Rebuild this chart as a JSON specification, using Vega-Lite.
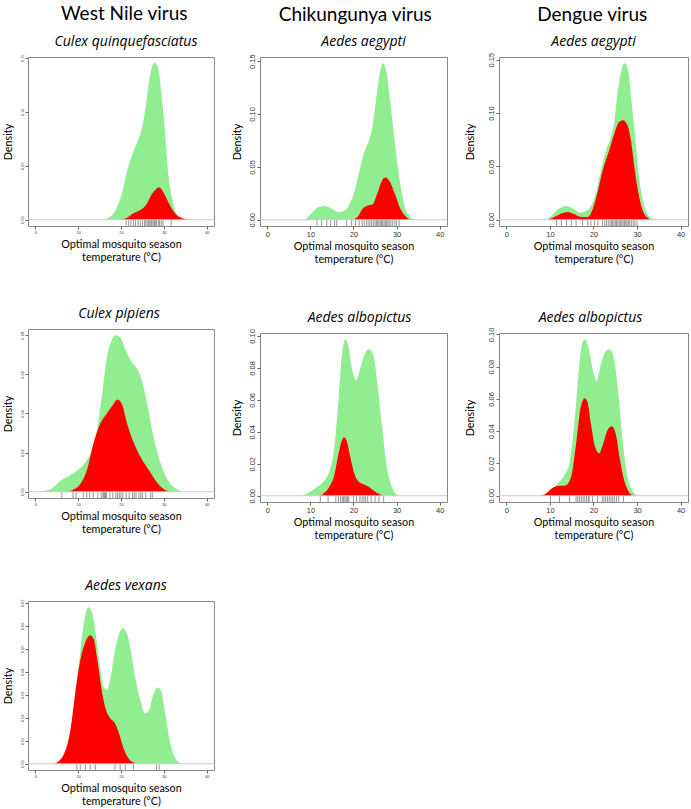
{
"$schema": "https://vega.github.io/schema/vega-lite/v6.json",
"padding": {"left": 1, "top": 5, "right": 0, "bottom": 0},
"background": "white",
"config": {
  "font": "Lato",
  "view": {"stroke": "#888888", "strokeWidth": 1},
  "axis": {"grid": false, "domain": false, "tickColor": "#666666", "tickSize": 3, "labelColor": "#333333", "labelFont": "Liberation Sans", "labelPadding": 1, "labelOverlap": false, "labelBound": false, "titleFont": "Lato", "titleFontWeight": 400, "titleFontSize": 10.8, "titleColor": "black", "titleLineHeight": 13},
  "axisY": {"labelAngle": -90, "labelOverlap": false, "tickCount": 20},
  "axisX": {"labelOverlap": false, "tickCount": 20},
  "title": {"font": "Open Sans", "fontWeight": 400, "fontSize": 14, "fontStyle": "italic", "offset": 8, "anchor": "middle", "frame": "group", "color": "black"}
},
"datasets": {
"curves": [
{"p":"p1","s":"g","t":15.6,"d":0},{"p":"p1","s":"g","t":17.1,"d":0.0018},{"p":"p1","s":"g","t":18.7,"d":0.0085},{"p":"p1","s":"g","t":20.2,"d":0.0238},{"p":"p1","s":"g","t":21.4,"d":0.045},{"p":"p1","s":"g","t":22.6,"d":0.06},{"p":"p1","s":"g","t":23.7,"d":0.071},{"p":"p1","s":"g","t":24.9,"d":0.085},{"p":"p1","s":"g","t":25.7,"d":0.103},{"p":"p1","s":"g","t":26.4,"d":0.124},{"p":"p1","s":"g","t":27.2,"d":0.141},{"p":"p1","s":"g","t":27.8,"d":0.1454},{"p":"p1","s":"g","t":28.6,"d":0.141},{"p":"p1","s":"g","t":29.4,"d":0.118},{"p":"p1","s":"g","t":30.2,"d":0.085},{"p":"p1","s":"g","t":30.9,"d":0.048},{"p":"p1","s":"g","t":31.9,"d":0.0207},{"p":"p1","s":"g","t":33.0,"d":0.0055},{"p":"p1","s":"g","t":34.6,"d":0},
{"p":"p1","s":"r","t":19.8,"d":0},{"p":"p1","s":"r","t":21.4,"d":0.0018},{"p":"p1","s":"r","t":22.9,"d":0.006},{"p":"p1","s":"r","t":24.5,"d":0.009},{"p":"p1","s":"r","t":26.0,"d":0.0146},{"p":"p1","s":"r","t":27.2,"d":0.0238},{"p":"p1","s":"r","t":28.1,"d":0.028},{"p":"p1","s":"r","t":28.8,"d":0.03},{"p":"p1","s":"r","t":29.5,"d":0.028},{"p":"p1","s":"r","t":30.7,"d":0.019},{"p":"p1","s":"r","t":31.9,"d":0.01},{"p":"p1","s":"r","t":33.4,"d":0.003},{"p":"p1","s":"r","t":36.1,"d":0},
{"p":"p2","s":"g","t":8.7,"d":0},{"p":"p2","s":"g","t":9.8,"d":0.004},{"p":"p2","s":"g","t":11.3,"d":0.0104},{"p":"p2","s":"g","t":13.2,"d":0.0129},{"p":"p2","s":"g","t":15.0,"d":0.0104},{"p":"p2","s":"g","t":16.5,"d":0.0072},{"p":"p2","s":"g","t":18.0,"d":0.0088},{"p":"p2","s":"g","t":19.1,"d":0.015},{"p":"p2","s":"g","t":20.3,"d":0.0277},{"p":"p2","s":"g","t":21.4,"d":0.0465},{"p":"p2","s":"g","t":22.5,"d":0.064},{"p":"p2","s":"g","t":23.6,"d":0.075},{"p":"p2","s":"g","t":24.4,"d":0.0874},{"p":"p2","s":"g","t":25.1,"d":0.109},{"p":"p2","s":"g","t":26.1,"d":0.138},{"p":"p2","s":"g","t":26.8,"d":0.148},{"p":"p2","s":"g","t":27.6,"d":0.141},{"p":"p2","s":"g","t":28.3,"d":0.119},{"p":"p2","s":"g","t":29.2,"d":0.0874},{"p":"p2","s":"g","t":30.0,"d":0.059},{"p":"p2","s":"g","t":31.1,"d":0.0277},{"p":"p2","s":"g","t":32.2,"d":0.0088},{"p":"p2","s":"g","t":33.7,"d":0.001},{"p":"p2","s":"g","t":34.5,"d":0},
{"p":"p2","s":"r","t":19.9,"d":0},{"p":"p2","s":"r","t":21.0,"d":0.003},{"p":"p2","s":"r","t":22.1,"d":0.0104},{"p":"p2","s":"r","t":23.3,"d":0.0135},{"p":"p2","s":"r","t":24.4,"d":0.0145},{"p":"p2","s":"r","t":25.5,"d":0.0245},{"p":"p2","s":"r","t":26.6,"d":0.037},{"p":"p2","s":"r","t":27.4,"d":0.04},{"p":"p2","s":"r","t":28.3,"d":0.037},{"p":"p2","s":"r","t":29.6,"d":0.0245},{"p":"p2","s":"r","t":30.7,"d":0.012},{"p":"p2","s":"r","t":31.9,"d":0.004},{"p":"p2","s":"r","t":33.3,"d":0},
{"p":"p3","s":"g","t":9.1,"d":0},{"p":"p3","s":"g","t":10.3,"d":0.0035},{"p":"p3","s":"g","t":11.8,"d":0.0098},{"p":"p3","s":"g","t":13.7,"d":0.0129},{"p":"p3","s":"g","t":15.6,"d":0.0098},{"p":"p3","s":"g","t":16.8,"d":0.0066},{"p":"p3","s":"g","t":18.3,"d":0.0082},{"p":"p3","s":"g","t":19.4,"d":0.0129},{"p":"p3","s":"g","t":20.6,"d":0.0255},{"p":"p3","s":"g","t":21.7,"d":0.046},{"p":"p3","s":"g","t":22.9,"d":0.065},{"p":"p3","s":"g","t":24.0,"d":0.0775},{"p":"p3","s":"g","t":24.8,"d":0.093},{"p":"p3","s":"g","t":25.5,"d":0.118},{"p":"p3","s":"g","t":26.5,"d":0.142},{"p":"p3","s":"g","t":27.2,"d":0.1466},{"p":"p3","s":"g","t":28.0,"d":0.139},{"p":"p3","s":"g","t":28.7,"d":0.112},{"p":"p3","s":"g","t":29.5,"d":0.0807},{"p":"p3","s":"g","t":30.2,"d":0.049},{"p":"p3","s":"g","t":31.2,"d":0.021},{"p":"p3","s":"g","t":32.4,"d":0.005},{"p":"p3","s":"g","t":33.9,"d":0},
{"p":"p3","s":"r","t":9.5,"d":0},{"p":"p3","s":"r","t":11.0,"d":0.0025},{"p":"p3","s":"r","t":12.6,"d":0.0057},{"p":"p3","s":"r","t":14.1,"d":0.0072},{"p":"p3","s":"r","t":15.6,"d":0.005},{"p":"p3","s":"r","t":17.1,"d":0.0025},{"p":"p3","s":"r","t":18.7,"d":0.0025},{"p":"p3","s":"r","t":19.8,"d":0.0098},{"p":"p3","s":"r","t":21.0,"d":0.027},{"p":"p3","s":"r","t":22.1,"d":0.046},{"p":"p3","s":"r","t":23.6,"d":0.065},{"p":"p3","s":"r","t":24.8,"d":0.081},{"p":"p3","s":"r","t":25.9,"d":0.0917},{"p":"p3","s":"r","t":26.8,"d":0.0933},{"p":"p3","s":"r","t":27.8,"d":0.0885},{"p":"p3","s":"r","t":28.6,"d":0.0744},{"p":"p3","s":"r","t":29.3,"d":0.052},{"p":"p3","s":"r","t":30.1,"d":0.03},{"p":"p3","s":"r","t":31.2,"d":0.0098},{"p":"p3","s":"r","t":32.4,"d":0.002},{"p":"p3","s":"r","t":33.5,"d":0},
{"p":"p4","s":"g","t":0.4,"d":0},{"p":"p4","s":"g","t":3.5,"d":0.0013},{"p":"p4","s":"g","t":5.8,"d":0.0055},{"p":"p4","s":"g","t":9.0,"d":0.0097},{"p":"p4","s":"g","t":11.3,"d":0.014},{"p":"p4","s":"g","t":13.2,"d":0.0215},{"p":"p4","s":"g","t":14.4,"d":0.0316},{"p":"p4","s":"g","t":15.6,"d":0.05},{"p":"p4","s":"g","t":16.7,"d":0.0686},{"p":"p4","s":"g","t":17.9,"d":0.0778},{"p":"p4","s":"g","t":18.7,"d":0.08},{"p":"p4","s":"g","t":19.9,"d":0.0786},{"p":"p4","s":"g","t":21.0,"d":0.0728},{"p":"p4","s":"g","t":22.6,"d":0.066},{"p":"p4","s":"g","t":23.8,"d":0.0627},{"p":"p4","s":"g","t":24.9,"d":0.0568},{"p":"p4","s":"g","t":26.1,"d":0.045},{"p":"p4","s":"g","t":27.6,"d":0.028},{"p":"p4","s":"g","t":29.2,"d":0.0148},{"p":"p4","s":"g","t":30.8,"d":0.0064},{"p":"p4","s":"g","t":33.1,"d":0.0013},{"p":"p4","s":"g","t":34.7,"d":0},
{"p":"p4","s":"r","t":7.0,"d":0},{"p":"p4","s":"r","t":8.6,"d":0.0008},{"p":"p4","s":"r","t":10.5,"d":0.0039},{"p":"p4","s":"r","t":12.1,"d":0.0114},{"p":"p4","s":"r","t":13.6,"d":0.0249},{"p":"p4","s":"r","t":15.2,"d":0.035},{"p":"p4","s":"r","t":16.7,"d":0.04},{"p":"p4","s":"r","t":18.3,"d":0.045},{"p":"p4","s":"r","t":19.1,"d":0.0472},{"p":"p4","s":"r","t":20.2,"d":0.045},{"p":"p4","s":"r","t":21.4,"d":0.035},{"p":"p4","s":"r","t":23.0,"d":0.0249},{"p":"p4","s":"r","t":24.5,"d":0.018},{"p":"p4","s":"r","t":26.9,"d":0.0097},{"p":"p4","s":"r","t":28.4,"d":0.0047},{"p":"p4","s":"r","t":30.0,"d":0.0013},{"p":"p4","s":"r","t":31.5,"d":0},
{"p":"p5","s":"g","t":8.0,"d":0},{"p":"p5","s":"g","t":9.5,"d":0.0017},{"p":"p5","s":"g","t":11.4,"d":0.0052},{"p":"p5","s":"g","t":13.2,"d":0.0094},{"p":"p5","s":"g","t":14.3,"d":0.0146},{"p":"p5","s":"g","t":15.5,"d":0.029},{"p":"p5","s":"g","t":16.6,"d":0.0628},{"p":"p5","s":"g","t":17.3,"d":0.0879},{"p":"p5","s":"g","t":18.1,"d":0.0979},{"p":"p5","s":"g","t":18.8,"d":0.094},{"p":"p5","s":"g","t":19.5,"d":0.0816},{"p":"p5","s":"g","t":20.7,"d":0.0722},{"p":"p5","s":"g","t":21.6,"d":0.08},{"p":"p5","s":"g","t":22.7,"d":0.0889},{"p":"p5","s":"g","t":23.6,"d":0.0916},{"p":"p5","s":"g","t":24.6,"d":0.0879},{"p":"p5","s":"g","t":25.5,"d":0.071},{"p":"p5","s":"g","t":26.6,"d":0.044},{"p":"p5","s":"g","t":27.7,"d":0.0188},{"p":"p5","s":"g","t":28.8,"d":0.0063},{"p":"p5","s":"g","t":30.0,"d":0.001},{"p":"p5","s":"g","t":31.1,"d":0},
{"p":"p5","s":"r","t":12.1,"d":0},{"p":"p5","s":"r","t":13.2,"d":0.0017},{"p":"p5","s":"r","t":14.3,"d":0.0052},{"p":"p5","s":"r","t":15.5,"d":0.0125},{"p":"p5","s":"r","t":16.6,"d":0.0272},{"p":"p5","s":"r","t":17.3,"d":0.0345},{"p":"p5","s":"r","t":17.8,"d":0.0366},{"p":"p5","s":"r","t":18.4,"d":0.0345},{"p":"p5","s":"r","t":19.2,"d":0.025},{"p":"p5","s":"r","t":20.1,"d":0.0146},{"p":"p5","s":"r","t":21.0,"d":0.0094},{"p":"p5","s":"r","t":22.2,"d":0.0073},{"p":"p5","s":"r","t":23.3,"d":0.0059},{"p":"p5","s":"r","t":24.4,"d":0.0038},{"p":"p5","s":"r","t":25.5,"d":0.0017},{"p":"p5","s":"r","t":27.0,"d":0},
{"p":"p6","s":"g","t":7.7,"d":0},{"p":"p6","s":"g","t":9.6,"d":0.0021},{"p":"p6","s":"g","t":11.5,"d":0.0068},{"p":"p6","s":"g","t":13.4,"d":0.0131},{"p":"p6","s":"g","t":14.5,"d":0.0205},{"p":"p6","s":"g","t":15.6,"d":0.0447},{"p":"p6","s":"g","t":16.8,"d":0.0827},{"p":"p6","s":"g","t":17.5,"d":0.0954},{"p":"p6","s":"g","t":18.1,"d":0.097},{"p":"p6","s":"g","t":18.9,"d":0.0911},{"p":"p6","s":"g","t":19.8,"d":0.0785},{"p":"p6","s":"g","t":20.7,"d":0.0711},{"p":"p6","s":"g","t":21.7,"d":0.0816},{"p":"p6","s":"g","t":22.8,"d":0.0895},{"p":"p6","s":"g","t":23.7,"d":0.0907},{"p":"p6","s":"g","t":24.7,"d":0.0848},{"p":"p6","s":"g","t":25.7,"d":0.0637},{"p":"p6","s":"g","t":26.7,"d":0.0342},{"p":"p6","s":"g","t":27.7,"d":0.0131},{"p":"p6","s":"g","t":28.8,"d":0.0036},{"p":"p6","s":"g","t":30.3,"d":0},
{"p":"p6","s":"r","t":7.7,"d":0},{"p":"p6","s":"r","t":8.8,"d":0.0008},{"p":"p6","s":"r","t":10.0,"d":0.0036},{"p":"p6","s":"r","t":11.1,"d":0.0055},{"p":"p6","s":"r","t":12.2,"d":0.0061},{"p":"p6","s":"r","t":13.6,"d":0.0063},{"p":"p6","s":"r","t":14.9,"d":0.012},{"p":"p6","s":"r","t":16.0,"d":0.032},{"p":"p6","s":"r","t":17.1,"d":0.0553},{"p":"p6","s":"r","t":18.0,"d":0.0605},{"p":"p6","s":"r","t":18.6,"d":0.0584},{"p":"p6","s":"r","t":19.4,"d":0.0447},{"p":"p6","s":"r","t":20.4,"d":0.03},{"p":"p6","s":"r","t":21.3,"d":0.0262},{"p":"p6","s":"r","t":22.2,"d":0.032},{"p":"p6","s":"r","t":23.2,"d":0.0405},{"p":"p6","s":"r","t":24.2,"d":0.043},{"p":"p6","s":"r","t":25.1,"d":0.0384},{"p":"p6","s":"r","t":26.0,"d":0.0236},{"p":"p6","s":"r","t":27.0,"d":0.0099},{"p":"p6","s":"r","t":28.1,"d":0.0025},{"p":"p6","s":"r","t":29.2,"d":0},
{"p":"p7","s":"g","t":5.0,"d":0},{"p":"p7","s":"g","t":6.2,"d":0.0014},{"p":"p7","s":"g","t":7.4,"d":0.0061},{"p":"p7","s":"g","t":8.5,"d":0.0176},{"p":"p7","s":"g","t":9.7,"d":0.0349},{"p":"p7","s":"g","t":10.9,"d":0.0551},{"p":"p7","s":"g","t":11.7,"d":0.0652},{"p":"p7","s":"g","t":12.4,"d":0.0681},{"p":"p7","s":"g","t":13.2,"d":0.066},{"p":"p7","s":"g","t":14.0,"d":0.058},{"p":"p7","s":"g","t":15.0,"d":0.0436},{"p":"p7","s":"g","t":15.9,"d":0.0335},{"p":"p7","s":"g","t":16.7,"d":0.032},{"p":"p7","s":"g","t":17.6,"d":0.0378},{"p":"p7","s":"g","t":18.6,"d":0.0494},{"p":"p7","s":"g","t":19.7,"d":0.0573},{"p":"p7","s":"g","t":20.4,"d":0.059},{"p":"p7","s":"g","t":21.4,"d":0.0566},{"p":"p7","s":"g","t":22.3,"d":0.0494},{"p":"p7","s":"g","t":23.3,"d":0.0378},{"p":"p7","s":"g","t":24.5,"d":0.0277},{"p":"p7","s":"g","t":25.6,"d":0.0219},{"p":"p7","s":"g","t":26.4,"d":0.0227},{"p":"p7","s":"g","t":27.4,"d":0.0292},{"p":"p7","s":"g","t":28.5,"d":0.0332},{"p":"p7","s":"g","t":29.3,"d":0.032},{"p":"p7","s":"g","t":30.3,"d":0.0219},{"p":"p7","s":"g","t":31.5,"d":0.0089},{"p":"p7","s":"g","t":32.6,"d":0.0025},{"p":"p7","s":"g","t":34.2,"d":0},
{"p":"p7","s":"r","t":4.3,"d":0},{"p":"p7","s":"r","t":5.4,"d":0.001},{"p":"p7","s":"r","t":6.6,"d":0.0039},{"p":"p7","s":"r","t":8.2,"d":0.0147},{"p":"p7","s":"r","t":9.3,"d":0.0306},{"p":"p7","s":"r","t":10.5,"d":0.045},{"p":"p7","s":"r","t":11.7,"d":0.053},{"p":"p7","s":"r","t":12.8,"d":0.0559},{"p":"p7","s":"r","t":13.6,"d":0.0544},{"p":"p7","s":"r","t":14.5,"d":0.045},{"p":"p7","s":"r","t":15.5,"d":0.032},{"p":"p7","s":"r","t":16.5,"d":0.0234},{"p":"p7","s":"r","t":17.5,"d":0.0198},{"p":"p7","s":"r","t":18.6,"d":0.0176},{"p":"p7","s":"r","t":19.4,"d":0.014},{"p":"p7","s":"r","t":20.6,"d":0.0068},{"p":"p7","s":"r","t":21.7,"d":0.0025},{"p":"p7","s":"r","t":22.9,"d":0.0006},{"p":"p7","s":"r","t":24.5,"d":0}
],
"rugs": [
{"p":"p1","t":21.2},{"p":"p1","t":21.8},{"p":"p1","t":22.3},{"p":"p1","t":22.9},{"p":"p1","t":23.4},{"p":"p1","t":24.0},{"p":"p1","t":24.5},{"p":"p1","t":25.0},{"p":"p1","t":25.5},{"p":"p1","t":25.8},{"p":"p1","t":26.1},{"p":"p1","t":26.4},{"p":"p1","t":26.7},{"p":"p1","t":27.0},{"p":"p1","t":27.2},{"p":"p1","t":27.5},{"p":"p1","t":27.8},{"p":"p1","t":28.0},{"p":"p1","t":28.3},{"p":"p1","t":28.7},{"p":"p1","t":29.0},{"p":"p1","t":29.4},{"p":"p1","t":29.8},{"p":"p1","t":31.7},
{"p":"p2","t":11.5},{"p":"p2","t":12.6},{"p":"p2","t":13.8},{"p":"p2","t":14.7},{"p":"p2","t":15.6},{"p":"p2","t":16.1},{"p":"p2","t":18.4},{"p":"p2","t":19.5},{"p":"p2","t":20.5},{"p":"p2","t":21.3},{"p":"p2","t":22.0},{"p":"p2","t":22.5},{"p":"p2","t":23.0},{"p":"p2","t":23.4},{"p":"p2","t":23.8},{"p":"p2","t":24.2},{"p":"p2","t":24.6},{"p":"p2","t":25.0},{"p":"p2","t":25.3},{"p":"p2","t":25.6},{"p":"p2","t":25.9},{"p":"p2","t":26.2},{"p":"p2","t":26.5},{"p":"p2","t":26.8},{"p":"p2","t":27.1},{"p":"p2","t":27.4},{"p":"p2","t":27.7},{"p":"p2","t":28.0},{"p":"p2","t":28.3},{"p":"p2","t":28.7},{"p":"p2","t":29.1},{"p":"p2","t":29.6},{"p":"p2","t":30.0},{"p":"p2","t":30.6},
{"p":"p3","t":11.5},{"p":"p3","t":12.6},{"p":"p3","t":13.8},{"p":"p3","t":14.9},{"p":"p3","t":16.0},{"p":"p3","t":17.5},{"p":"p3","t":18.7},{"p":"p3","t":19.4},{"p":"p3","t":20.2},{"p":"p3","t":21.0},{"p":"p3","t":22.1},{"p":"p3","t":22.6},{"p":"p3","t":23.0},{"p":"p3","t":23.4},{"p":"p3","t":23.8},{"p":"p3","t":24.1},{"p":"p3","t":24.4},{"p":"p3","t":24.7},{"p":"p3","t":25.0},{"p":"p3","t":25.3},{"p":"p3","t":25.6},{"p":"p3","t":25.9},{"p":"p3","t":26.2},{"p":"p3","t":26.5},{"p":"p3","t":26.8},{"p":"p3","t":27.1},{"p":"p3","t":27.4},{"p":"p3","t":27.7},{"p":"p3","t":28.0},{"p":"p3","t":28.3},{"p":"p3","t":28.7},{"p":"p3","t":29.1},{"p":"p3","t":29.5},{"p":"p3","t":30.0},
{"p":"p4","t":6.2},{"p":"p4","t":8.8},{"p":"p4","t":9.5},{"p":"p4","t":11.2},{"p":"p4","t":12.0},{"p":"p4","t":12.7},{"p":"p4","t":13.5},{"p":"p4","t":14.6},{"p":"p4","t":15.4},{"p":"p4","t":15.8},{"p":"p4","t":16.0},{"p":"p4","t":16.2},{"p":"p4","t":16.4},{"p":"p4","t":16.6},{"p":"p4","t":17.4},{"p":"p4","t":18.1},{"p":"p4","t":18.8},{"p":"p4","t":19.2},{"p":"p4","t":19.6},{"p":"p4","t":20.0},{"p":"p4","t":20.4},{"p":"p4","t":21.2},{"p":"p4","t":21.9},{"p":"p4","t":22.7},{"p":"p4","t":23.1},{"p":"p4","t":23.5},{"p":"p4","t":24.2},{"p":"p4","t":24.6},{"p":"p4","t":25.0},{"p":"p4","t":25.8},{"p":"p4","t":26.9},{"p":"p4","t":27.3},
{"p":"p5","t":12.3},{"p":"p5","t":14.1},{"p":"p5","t":15.9},{"p":"p5","t":16.5},{"p":"p5","t":17.0},{"p":"p5","t":17.4},{"p":"p5","t":17.7},{"p":"p5","t":18.0},{"p":"p5","t":18.3},{"p":"p5","t":18.6},{"p":"p5","t":18.9},{"p":"p5","t":20.0},{"p":"p5","t":20.7},{"p":"p5","t":21.5},{"p":"p5","t":22.0},{"p":"p5","t":22.4},{"p":"p5","t":22.8},{"p":"p5","t":23.3},{"p":"p5","t":24.1},{"p":"p5","t":25.0},{"p":"p5","t":25.9},{"p":"p5","t":27.0},
{"p":"p6","t":10.1},{"p":"p6","t":12.2},{"p":"p6","t":14.5},{"p":"p6","t":16.0},{"p":"p6","t":16.4},{"p":"p6","t":16.8},{"p":"p6","t":17.2},{"p":"p6","t":17.6},{"p":"p6","t":18.0},{"p":"p6","t":18.4},{"p":"p6","t":18.8},{"p":"p6","t":19.0},{"p":"p6","t":19.8},{"p":"p6","t":20.9},{"p":"p6","t":22.0},{"p":"p6","t":22.4},{"p":"p6","t":22.8},{"p":"p6","t":23.2},{"p":"p6","t":23.6},{"p":"p6","t":24.0},{"p":"p6","t":24.4},{"p":"p6","t":24.8},{"p":"p6","t":25.3},{"p":"p6","t":25.8},{"p":"p6","t":26.9},
{"p":"p7","t":9.7},{"p":"p7","t":10.5},{"p":"p7","t":11.7},{"p":"p7","t":12.8},{"p":"p7","t":14.0},{"p":"p7","t":18.6},{"p":"p7","t":19.8},{"p":"p7","t":21.0},{"p":"p7","t":22.9},{"p":"p7","t":28.3},{"p":"p7","t":28.9}
]
},
"spacing": 15,
"hconcat": [
{
"title": {"text": "West Nile virus", "font": "Lato", "fontSize": 19, "fontStyle": "normal", "fontWeight": 400, "offset": 10, "anchor": "middle", "frame": "bounds", "dx": 16},
"spacing": 43,
"vconcat": [
{"width": 186, "height": 169, "title": {"text": "Culex quinquefasciatus", "dx": 5, "offset": 5},
"layer": [
{"data": {"name": "curves"}, "transform": [{"filter": "datum.p === 'p1' && datum.s === 'g'"}], "mark": {"type": "area", "color": "#90EE90", "interpolate": "monotone"},
 "encoding": {"x": {"field": "t", "type": "quantitative", "scale": {"domain": [-1.7, 41.7], "nice": false, "zero": false}, "axis": {"values": [0, 10, 20, 30, 40], "tickCount": 20, "title": ["Optimal mosquito season", "temperature (°C)"], "labelFontSize": 4, "titlePadding": 4, "labelOverlap": false}},
  "y": {"field": "d", "type": "quantitative", "scale": {"domain": [-0.0058, 0.1508], "nice": false, "zero": false}, "axis": {"values": [0, 0.05, 0.1, 0.15], "tickCount": 20, "format": ".2f", "title": "Density", "labelFontSize": 4, "titlePadding": 7, "labelOverlap": false}}}},
{"data": {"name": "curves"}, "transform": [{"filter": "datum.p === 'p1' && datum.s === 'r'"}], "mark": {"type": "area", "color": "#FF0000", "interpolate": "monotone"}, "encoding": {"x": {"field": "t", "type": "quantitative"}, "y": {"field": "d", "type": "quantitative"}}},
{"data": {"values": [{}]}, "mark": {"type": "rule", "color": "#cccccc", "strokeWidth": 1}, "encoding": {"y": {"datum": 0}}},
{"data": {"name": "rugs"}, "transform": [{"filter": "datum.p === 'p1'"}], "mark": {"type": "rule", "color": "#666666", "strokeWidth": 0.7}, "encoding": {"x": {"field": "t", "type": "quantitative"}, "y": {"datum": -0.0058}, "y2": {"datum": -0.0005}}}
]},
{"width": 186, "height": 169, "title": {"text": "Culex pipiens", "dx": -2, "offset": 8},
"layer": [
{"data": {"name": "curves"}, "transform": [{"filter": "datum.p === 'p4' && datum.s === 'g'"}], "mark": {"type": "area", "color": "#90EE90", "interpolate": "monotone"},
 "encoding": {"x": {"field": "t", "type": "quantitative", "scale": {"domain": [-1.7, 41.7], "nice": false, "zero": false}, "axis": {"values": [0, 10, 20, 30, 40], "tickCount": 20, "title": ["Optimal mosquito season", "temperature (°C)"], "labelFontSize": 4, "titlePadding": 4, "labelOverlap": false}},
  "y": {"field": "d", "type": "quantitative", "scale": {"domain": [-0.0032, 0.0832], "nice": false, "zero": false}, "axis": {"values": [0, 0.02, 0.04, 0.06, 0.08], "tickCount": 20, "format": ".2f", "title": "Density", "labelFontSize": 4, "titlePadding": 7, "labelOverlap": false}}}},
{"data": {"name": "curves"}, "transform": [{"filter": "datum.p === 'p4' && datum.s === 'r'"}], "mark": {"type": "area", "color": "#FF0000", "interpolate": "monotone"}, "encoding": {"x": {"field": "t", "type": "quantitative"}, "y": {"field": "d", "type": "quantitative"}}},
{"data": {"values": [{}]}, "mark": {"type": "rule", "color": "#cccccc", "strokeWidth": 1}, "encoding": {"y": {"datum": 0}}},
{"data": {"name": "rugs"}, "transform": [{"filter": "datum.p === 'p4'"}], "mark": {"type": "rule", "color": "#666666", "strokeWidth": 0.7}, "encoding": {"x": {"field": "t", "type": "quantitative"}, "y": {"datum": -0.0032}, "y2": {"datum": -0.0003}}}
]},
{"width": 186, "height": 169, "title": {"text": "Aedes vexans", "dx": 5, "offset": 6},
"layer": [
{"data": {"name": "curves"}, "transform": [{"filter": "datum.p === 'p7' && datum.s === 'g'"}], "mark": {"type": "area", "color": "#90EE90", "interpolate": "monotone"},
 "encoding": {"x": {"field": "t", "type": "quantitative", "scale": {"domain": [-1.7, 41.7], "nice": false, "zero": false}, "axis": {"values": [0, 10, 20, 30, 40], "tickCount": 20, "title": ["Optimal mosquito season", "temperature (°C)"], "labelFontSize": 4, "titlePadding": 4, "labelOverlap": false}},
  "y": {"field": "d", "type": "quantitative", "scale": {"domain": [-0.0027, 0.0708], "nice": false, "zero": false}, "axis": {"values": [0, 0.01, 0.02, 0.03, 0.04, 0.05, 0.06, 0.07], "tickCount": 20, "format": ".2f", "title": "Density", "labelFontSize": 4, "titlePadding": 7, "labelOverlap": false}}}},
{"data": {"name": "curves"}, "transform": [{"filter": "datum.p === 'p7' && datum.s === 'r'"}], "mark": {"type": "area", "color": "#FF0000", "interpolate": "monotone"}, "encoding": {"x": {"field": "t", "type": "quantitative"}, "y": {"field": "d", "type": "quantitative"}}},
{"data": {"values": [{}]}, "mark": {"type": "rule", "color": "#cccccc", "strokeWidth": 1}, "encoding": {"y": {"datum": 0}}},
{"data": {"name": "rugs"}, "transform": [{"filter": "datum.p === 'p7'"}], "mark": {"type": "rule", "color": "#666666", "strokeWidth": 0.7}, "encoding": {"x": {"field": "t", "type": "quantitative"}, "y": {"datum": -0.0027}, "y2": {"datum": -0.0003}}}
]}
]
},
{
"title": {"text": "Chikungunya virus", "font": "Lato", "fontSize": 19, "fontStyle": "normal", "fontWeight": 400, "offset": 10, "anchor": "middle", "frame": "bounds", "dx": 16},
"spacing": 45,
"vconcat": [
{"width": 187, "height": 169, "title": {"text": "Aedes aegypti", "dx": 10, "offset": 4.8},
"layer": [
{"data": {"name": "curves"}, "transform": [{"filter": "datum.p === 'p2' && datum.s === 'g'"}], "mark": {"type": "area", "color": "#90EE90", "interpolate": "monotone"},
 "encoding": {"x": {"field": "t", "type": "quantitative", "scale": {"domain": [-1.7, 41.7], "nice": false, "zero": false}, "axis": {"values": [0, 10, 20, 30, 40], "tickCount": 20, "title": ["Optimal mosquito season", "temperature (°C)"], "labelFontSize": 7.5, "titlePadding": 3, "labelOverlap": false}},
  "y": {"field": "d", "type": "quantitative", "scale": {"domain": [-0.0059, 0.1539], "nice": false, "zero": false}, "axis": {"values": [0, 0.05, 0.1, 0.15], "tickCount": 20, "format": ".2f", "title": "Density", "labelFontSize": 7.5, "titlePadding": 6, "labelOverlap": false}}}},
{"data": {"name": "curves"}, "transform": [{"filter": "datum.p === 'p2' && datum.s === 'r'"}], "mark": {"type": "area", "color": "#FF0000", "interpolate": "monotone"}, "encoding": {"x": {"field": "t", "type": "quantitative"}, "y": {"field": "d", "type": "quantitative"}}},
{"data": {"values": [{}]}, "mark": {"type": "rule", "color": "#cccccc", "strokeWidth": 1}, "encoding": {"y": {"datum": 0}}},
{"data": {"name": "rugs"}, "transform": [{"filter": "datum.p === 'p2'"}], "mark": {"type": "rule", "color": "#666666", "strokeWidth": 0.7}, "encoding": {"x": {"field": "t", "type": "quantitative"}, "y": {"datum": -0.0059}, "y2": {"datum": -0.0005}}}
]},
{"width": 187, "height": 169, "title": {"text": "Aedes albopictus", "dx": 6, "offset": 3.6},
"layer": [
{"data": {"name": "curves"}, "transform": [{"filter": "datum.p === 'p5' && datum.s === 'g'"}], "mark": {"type": "area", "color": "#90EE90", "interpolate": "monotone"},
 "encoding": {"x": {"field": "t", "type": "quantitative", "scale": {"domain": [-1.7, 41.7], "nice": false, "zero": false}, "axis": {"values": [0, 10, 20, 30, 40], "tickCount": 20, "title": ["Optimal mosquito season", "temperature (°C)"], "labelFontSize": 7.5, "titlePadding": 3, "labelOverlap": false}},
  "y": {"field": "d", "type": "quantitative", "scale": {"domain": [-0.0039, 0.1018], "nice": false, "zero": false}, "axis": {"values": [0, 0.02, 0.04, 0.06, 0.08, 0.1], "tickCount": 20, "format": ".2f", "title": "Density", "labelFontSize": 7.5, "titlePadding": 6, "labelOverlap": false}}}},
{"data": {"name": "curves"}, "transform": [{"filter": "datum.p === 'p5' && datum.s === 'r'"}], "mark": {"type": "area", "color": "#FF0000", "interpolate": "monotone"}, "encoding": {"x": {"field": "t", "type": "quantitative"}, "y": {"field": "d", "type": "quantitative"}}},
{"data": {"values": [{}]}, "mark": {"type": "rule", "color": "#cccccc", "strokeWidth": 1}, "encoding": {"y": {"datum": 0}}},
{"data": {"name": "rugs"}, "transform": [{"filter": "datum.p === 'p5'"}], "mark": {"type": "rule", "color": "#666666", "strokeWidth": 0.7}, "encoding": {"x": {"field": "t", "type": "quantitative"}, "y": {"datum": -0.0039}, "y2": {"datum": -0.0003}}}
]}
]
},
{
"title": {"text": "Dengue virus", "font": "Lato", "fontSize": 19, "fontStyle": "normal", "fontWeight": 400, "offset": 10, "anchor": "middle", "frame": "bounds", "dx": 16},
"spacing": 45,
"vconcat": [
{"width": 189, "height": 169, "title": {"text": "Aedes aegypti", "dx": 0, "offset": 3.3},
"layer": [
{"data": {"name": "curves"}, "transform": [{"filter": "datum.p === 'p3' && datum.s === 'g'"}], "mark": {"type": "area", "color": "#90EE90", "interpolate": "monotone"},
 "encoding": {"x": {"field": "t", "type": "quantitative", "scale": {"domain": [-1.7, 41.7], "nice": false, "zero": false}, "axis": {"values": [0, 10, 20, 30, 40], "tickCount": 20, "title": ["Optimal mosquito season", "temperature (°C)"], "labelFontSize": 7.5, "titlePadding": 3, "labelOverlap": false}},
  "y": {"field": "d", "type": "quantitative", "scale": {"domain": [-0.0059, 0.1525], "nice": false, "zero": false}, "axis": {"values": [0, 0.05, 0.1, 0.15], "tickCount": 20, "format": ".2f", "title": "Density", "labelFontSize": 7.5, "titlePadding": 12, "labelOverlap": false}}}},
{"data": {"name": "curves"}, "transform": [{"filter": "datum.p === 'p3' && datum.s === 'r'"}], "mark": {"type": "area", "color": "#FF0000", "interpolate": "monotone"}, "encoding": {"x": {"field": "t", "type": "quantitative"}, "y": {"field": "d", "type": "quantitative"}}},
{"data": {"values": [{}]}, "mark": {"type": "rule", "color": "#cccccc", "strokeWidth": 1}, "encoding": {"y": {"datum": 0}}},
{"data": {"name": "rugs"}, "transform": [{"filter": "datum.p === 'p3'"}], "mark": {"type": "rule", "color": "#666666", "strokeWidth": 0.7}, "encoding": {"x": {"field": "t", "type": "quantitative"}, "y": {"datum": -0.0059}, "y2": {"datum": -0.0005}}}
]},
{"width": 189, "height": 169, "title": {"text": "Aedes albopictus", "dx": -3, "offset": 2.2},
"layer": [
{"data": {"name": "curves"}, "transform": [{"filter": "datum.p === 'p6' && datum.s === 'g'"}], "mark": {"type": "area", "color": "#90EE90", "interpolate": "monotone"},
 "encoding": {"x": {"field": "t", "type": "quantitative", "scale": {"domain": [-1.7, 41.7], "nice": false, "zero": false}, "axis": {"values": [0, 10, 20, 30, 40], "tickCount": 20, "title": ["Optimal mosquito season", "temperature (°C)"], "labelFontSize": 7.5, "titlePadding": 3, "labelOverlap": false}},
  "y": {"field": "d", "type": "quantitative", "scale": {"domain": [-0.0039, 0.1009], "nice": false, "zero": false}, "axis": {"values": [0, 0.02, 0.04, 0.06, 0.08, 0.1], "tickCount": 20, "format": ".2f", "title": "Density", "labelFontSize": 7.5, "titlePadding": 12, "labelOverlap": false}}}},
{"data": {"name": "curves"}, "transform": [{"filter": "datum.p === 'p6' && datum.s === 'r'"}], "mark": {"type": "area", "color": "#FF0000", "interpolate": "monotone"}, "encoding": {"x": {"field": "t", "type": "quantitative"}, "y": {"field": "d", "type": "quantitative"}}},
{"data": {"values": [{}]}, "mark": {"type": "rule", "color": "#cccccc", "strokeWidth": 1}, "encoding": {"y": {"datum": 0}}},
{"data": {"name": "rugs"}, "transform": [{"filter": "datum.p === 'p6'"}], "mark": {"type": "rule", "color": "#666666", "strokeWidth": 0.7}, "encoding": {"x": {"field": "t", "type": "quantitative"}, "y": {"datum": -0.0039}, "y2": {"datum": -0.0003}}}
]}
]
}
]
}
